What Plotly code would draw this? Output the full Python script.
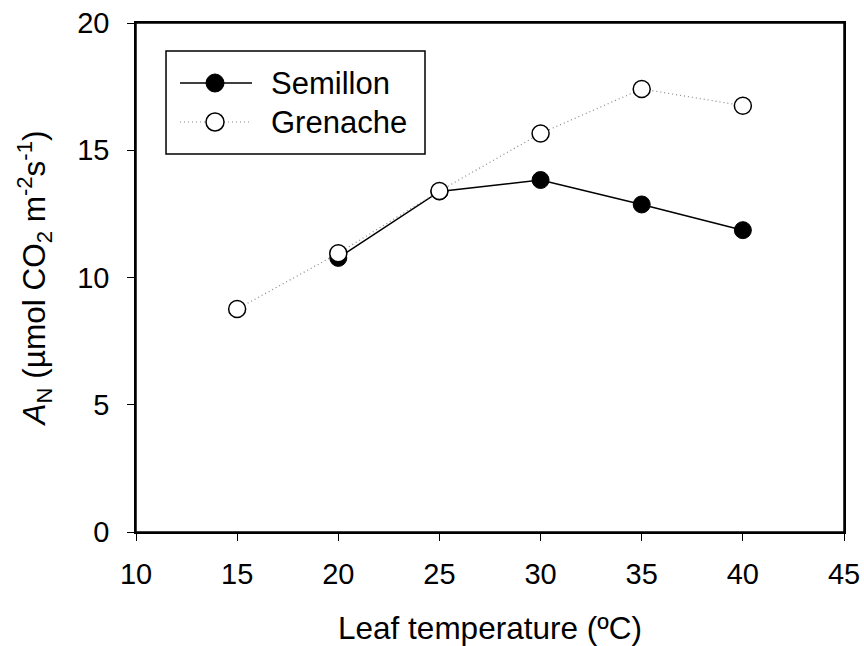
import plotly.graph_objects as go

sem_x = [20, 25, 30, 35, 40]
sem_y = [10.77, 13.38, 13.83, 12.87, 11.86]
gre_x = [15, 20, 25, 30, 35, 40]
gre_y = [8.76, 10.95, 13.4, 15.66, 17.41, 16.75]
series_names = ["Semillon", "Grenache"]

x_ticks = [10, 15, 20, 25, 30, 35, 40, 45]
y_ticks = [0, 5, 10, 15, 20]

font = "Liberation Sans, Arial, sans-serif"
TICK_FS = 29
TITLE_FS = 31.5
LEG_FS = 31

sem_line = dict(color="black", width=1.5)
gre_line = dict(color="#888888", width=1.2, dash="1px,3px")
sem_marker = dict(symbol="circle", size=17, color="black", line=dict(color="black", width=1))
gre_marker = dict(symbol="circle", size=17, color="white", line=dict(color="black", width=1.5))

fig = go.Figure()
fig.add_trace(go.Scatter(x=sem_x, y=sem_y, name=series_names[0], mode="lines+markers",
                         line=sem_line, marker=sem_marker, showlegend=False))
fig.add_trace(go.Scatter(x=gre_x, y=gre_y, name=series_names[1], mode="lines+markers",
                         line=gre_line, marker=gre_marker, showlegend=False))

axis_common = dict(
    showline=True, linecolor="black", linewidth=1.5, mirror=True,
    ticks="outside", ticklen=7, tickwidth=1.2, tickcolor="black",
    showgrid=False, zeroline=False, automargin=False,
    ticklabeloverflow="allow",
    tickfont=dict(family=font, size=TICK_FS, color="black"),
)

fig.update_xaxes(
    range=[10, 45], tickvals=x_ticks, ticktext=[str(v) for v in x_ticks],
    ticklabelstandoff=8,
    title=dict(text="Leaf temperature (ºC)", font=dict(family=font, size=TITLE_FS, color="black"), standoff=28),
    **axis_common,
)
fig.update_yaxes(
    range=[0, 20], tickvals=y_ticks, ticktext=[str(v) for v in y_ticks],
    ticklabelstandoff=12,
    title=dict(text="<i>A</i><sub>N</sub> (µmol CO<sub>2</sub> m<sup>-2</sup>s<sup>-1</sup>)",
               font=dict(family=font, size=TITLE_FS, color="black"), standoff=22),
    **axis_common,
)

# Plot frame
fig.add_shape(type="rect", xref="paper", yref="paper", x0=0, x1=1, y0=0, y1=1,
              line=dict(color="black", width=1.5), layer="above")

# Custom legend (paper coordinates)
box = dict(x0=0.0424, x1=0.4082, y0=0.7426, y1=0.945)
rows_y = [0.8821, 0.8055]
line_x = (0.0621, 0.1638)
mark_x = 0.1116
text_x = 0.1890

fig.add_shape(type="rect", xref="paper", yref="paper", **box,
              line=dict(color="black", width=1.5), fillcolor="white", layer="above")
legend_styles = [(sem_line, "black", 1), (gre_line, "white", 1.5)]
for name, ry, (ls, fc, mw) in zip(series_names, rows_y, legend_styles):
    fig.add_shape(type="line", xref="paper", yref="paper",
                  x0=line_x[0], x1=line_x[1], y0=ry, y1=ry, line=ls, layer="above")
    fig.add_shape(type="circle", xref="paper", yref="paper",
                  xsizemode="pixel", ysizemode="pixel", xanchor=mark_x, yanchor=ry,
                  x0=-9, x1=9, y0=-9, y1=9,
                  fillcolor=fc, line=dict(color="black", width=mw), layer="above")
    fig.add_annotation(x=text_x, y=ry, xref="paper", yref="paper", text=name,
                       showarrow=False, xanchor="left", yanchor="middle", borderpad=0,
                       font=dict(family=font, size=LEG_FS, color="black"))

fig.update_layout(
    width=864, height=646,
    margin=dict(l=136, r=20, t=23, b=114),
    plot_bgcolor="white", paper_bgcolor="white",
    font=dict(family=font, size=TICK_FS, color="black"),
    showlegend=False,
)

fig.write_html(
    "out.html",
    config={"displayModeBar": False},
    post_script="document.body.style.margin='0';document.body.style.overflow='hidden';",
)
